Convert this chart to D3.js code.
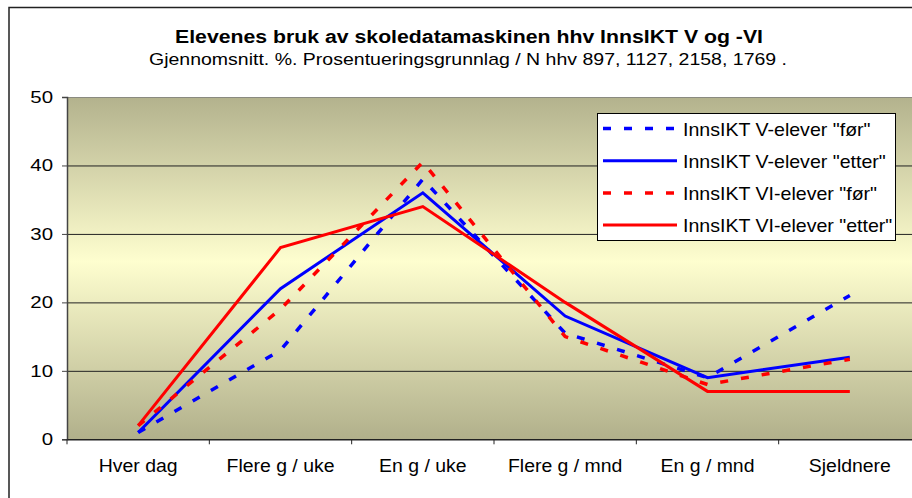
<!DOCTYPE html>
<html>
<head>
<meta charset="utf-8">
<script src="https://cdn.jsdelivr.net/npm/d3@7"></script>
<style>
  body { margin: 0; background: #fff; }
  svg { display: block; font-family: "Liberation Sans", Arial, sans-serif; }
</style>
</head>
<body>
<div id="chartDiv"></div>
<script>
// categories and series
var categories = ["Hver dag", "Flere g / uke", "En g / uke", "Flere g / mnd", "En g / mnd", "Sjeldnere"];
var vFor     = [1, 13, 38, 15.5, 9, 21];
var vEtter   = [1, 22, 36, 18, 9, 12];
var viFor    = [2, 19, 40.5, 15, 8, 11.7];
var viEtter  = [2, 28, 34, 20, 7, 7];
var seriesNames = ['InnsIKT V-elever "før"', 'InnsIKT V-elever "etter"', 'InnsIKT VI-elever "før"', 'InnsIKT VI-elever "etter"'];
var yTicks = [0, 10, 20, 30, 40, 50];

var title = "Elevenes bruk av skoledatamaskinen hhv InnsIKT V og -VI";
var subtitle = "Gjennomsnitt. %. Prosentueringsgrunnlag / N hhv 897, 1127, 2158, 1769 .";

var width = 912, height = 498;
var plot = { left: 67, right: 921, top: 97, bottom: 439.3 };

var series = [
    { name: seriesNames[0], values: vFor,    color: "#0000ff", dash: "8,13", w: 3.5 },
    { name: seriesNames[1], values: vEtter,  color: "#0000ff", dash: null,   w: 3 },
    { name: seriesNames[2], values: viFor,   color: "#ff0000", dash: "8,13", w: 3.5 },
    { name: seriesNames[3], values: viEtter, color: "#ff0000", dash: null,   w: 3 }
];

// stretch text horizontally, the original export is a bit wider than the font
function stretch(sel, k) {
    sel.each(function() {
        var w = this.getComputedTextLength();
        d3.select(this).attr("textLength", w * k).attr("lengthAdjust", "spacingAndGlyphs");
    });
}

var svg = d3.select("#chartDiv")
            .append("svg")
            .attr("width", width)
            .attr("height", height);

var grad = svg.append("defs").append("linearGradient")
              .attr("id", "bg").attr("x1", 0).attr("y1", 0).attr("x2", 0).attr("y2", 1);
grad.append("stop").attr("offset", "0%").attr("stop-color", "#b3b28d");
grad.append("stop").attr("offset", "48%").attr("stop-color", "#fefecf");
grad.append("stop").attr("offset", "100%").attr("stop-color", "#b1b08b");

svg.append("rect")
   .attr("x", 9).attr("y", 7.5)
   .attr("width", 930).attr("height", 520)
   .attr("fill", "#fff").attr("stroke", "#222").attr("stroke-width", 1.5);

var xScale = d3.scaleBand()
               .domain(categories)
               .range([plot.left, plot.right])
               .padding(0);
var yScale = d3.scaleLinear()
               .domain([0, 50])
               .range([plot.bottom, plot.top]);

svg.append("rect")
   .attr("x", plot.left).attr("y", plot.top)
   .attr("width", plot.right - plot.left).attr("height", plot.bottom - plot.top)
   .attr("fill", "url(#bg)");

// gridlines
svg.append("g")
   .attr("transform", "translate(" + plot.left + ",0)")
   .call(d3.axisLeft(yScale).tickValues(yTicks.slice(1)).tickSize(-(plot.right - plot.left)).tickFormat(""))
   .call(function(g) { g.select(".domain").remove(); })
   .selectAll("line")
   .attr("stroke", function(d) { return d === 50 ? "#8a8a80" : "#222"; })
   .attr("stroke-width", 1);

// y axis
var yAxis = svg.append("g")
   .attr("transform", "translate(" + plot.left + ",0)")
   .call(d3.axisLeft(yScale).tickValues(yTicks).tickSize(5).tickPadding(9));
yAxis.select(".domain").attr("stroke", "#444").attr("stroke-width", 1.5);
yAxis.selectAll("line").attr("stroke", "#444");
yAxis.selectAll("text")
     .attr("font-size", "17px").attr("fill", "#000")
     .attr("font-family", "Liberation Sans, Arial, sans-serif")
     .call(stretch, 1.2);

// x axis: labels at band centres, ticks at band edges
var xAxis = svg.append("g")
   .attr("transform", "translate(0," + plot.bottom + ")")
   .call(d3.axisBottom(xScale).tickSize(0).tickPadding(20));
xAxis.select(".domain").attr("stroke", "#222").attr("stroke-width", 1.5);
xAxis.selectAll("text")
     .attr("font-size", "17.5px").attr("fill", "#000")
     .attr("font-family", "Liberation Sans, Arial, sans-serif")
     .call(stretch, 1.11);
xAxis.selectAll(".edge")
     .data(categories)
     .enter()
     .append("line")
     .attr("x1", function(d) { return xScale(d); })
     .attr("x2", function(d) { return xScale(d); })
     .attr("y1", 0).attr("y2", 5)
     .attr("stroke", "#222");

var line = d3.line()
             .x(function(d, i) { return xScale(categories[i]) + xScale.bandwidth() / 2; })
             .y(function(d) { return yScale(d); });

svg.selectAll(".series")
   .data(series)
   .enter()
   .append("path")
   .attr("class", "series")
   .attr("d", function(d) { return line(d.values); })
   .attr("fill", "none")
   .attr("stroke", function(d) { return d.color; })
   .attr("stroke-width", function(d) { return d.w; })
   .attr("stroke-dasharray", function(d) { return d.dash; })
   .attr("stroke-linejoin", "miter");

// titles
svg.append("text")
   .attr("x", 469).attr("y", 43)
   .attr("text-anchor", "middle")
   .attr("font-size", "17.5px").attr("font-weight", "bold")
   .attr("textLength", 588).attr("lengthAdjust", "spacingAndGlyphs")
   .text(title);
svg.append("text")
   .attr("x", 468).attr("y", 65)
   .attr("text-anchor", "middle")
   .attr("font-size", "17px")
   .attr("textLength", 638).attr("lengthAdjust", "spacingAndGlyphs")
   .text(subtitle);

// legend
var legend = svg.append("g").attr("transform", "translate(597,113)");
legend.append("rect")
      .attr("x", 0.5).attr("y", 0.5)
      .attr("width", 298).attr("height", 127)
      .attr("fill", "#fff").attr("stroke", "#000").attr("stroke-width", 1);
var items = legend.selectAll(".item")
      .data(series)
      .enter()
      .append("g")
      .attr("transform", function(d, i) { return "translate(0," + (15.5 + i * 32.2) + ")"; });
items.append("line")
     .attr("x1", 6).attr("x2", 80)
     .attr("stroke", function(d) { return d.color; })
     .attr("stroke-width", function(d) { return d.w; })
     .attr("stroke-dasharray", function(d) { return d.dash; });
items.append("text")
     .attr("x", 86).attr("y", 7)
     .attr("font-size", "19px")
     .text(function(d) { return d.name; })
     .call(stretch, 1.03);
</script>
</body>
</html>
